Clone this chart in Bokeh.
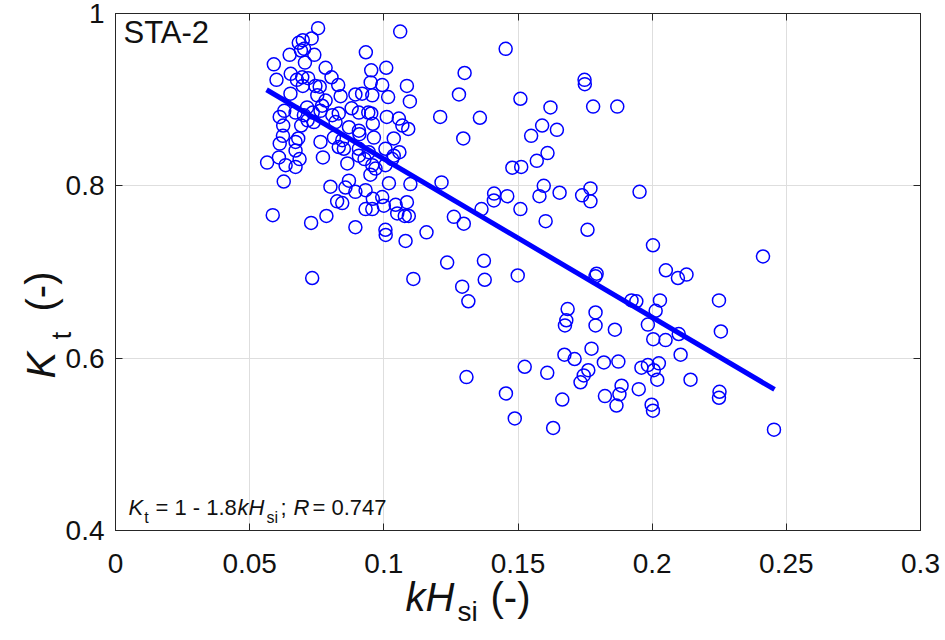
from bokeh.plotting import figure
from bokeh.models import Label, LinearAxis, FixedTicker, CustomJSTickFormatter, Range1d
from bokeh.embed import file_html
from bokeh.resources import INLINE

# data (kH_si vs K_t)
kh_si = [
    0.0755, 0.0731, 0.0698, 0.0683, 0.0703, 0.0649, 0.0741, 0.0691, 0.0590, 0.0706,
    0.0783, 0.0933, 0.1061, 0.1009, 0.0953, 0.0600, 0.0653, 0.0805, 0.0696, 0.0676,
    0.0718, 0.0698, 0.0745, 0.0761, 0.0830, 0.0951, 0.0994, 0.0652, 0.0752, 0.0839,
    0.0894, 0.0919, 0.0957, 0.1016, 0.0783, 0.0770, 0.0629, 0.0714, 0.0735, 0.0671,
    0.0702, 0.0764, 0.0808, 0.0832, 0.0880, 0.0907, 0.0942, 0.0953, 0.1011, 0.1056,
    0.0612, 0.0716, 0.0739, 0.0625, 0.0692, 0.0820, 0.0870, 0.0907, 0.0959, 0.1069,
    0.0624, 0.0681, 0.0764, 0.0814, 0.0845, 0.0909, 0.0963, 0.1037, 0.0612, 0.0671,
    0.0832, 0.0851, 0.0907, 0.0944, 0.1006, 0.1058, 0.0671, 0.0565, 0.0609, 0.0686,
    0.0773, 0.0864, 0.0928, 0.1031,
    0.0634, 0.0671, 0.0907, 0.0957, 0.0950, 0.0969, 0.1006, 0.1037, 0.0627,
    0.0801, 0.0870, 0.0857, 0.0894, 0.0932, 0.1019, 0.1099, 0.0826, 0.0845, 0.0959,
    0.0994, 0.0932, 0.0957, 0.1000, 0.1044, 0.1086, 0.1050, 0.1078, 0.1093, 0.0586,
    0.0729, 0.0786, 0.0894, 0.1006, 0.1007, 0.1081, 0.1159, 0.0733, 0.1110,
    0.1454, 0.1301, 0.1086, 0.1280, 0.1097, 0.1509, 0.1748, 0.1749, 0.1780, 0.1621,
    0.1210, 0.1358, 0.1091, 0.1590, 0.1645, 0.1549, 0.1296, 0.1610, 0.1570, 0.1479,
    0.1512, 0.1215, 0.1596, 0.1770, 0.1411, 0.1460, 0.1580, 0.1655, 0.1739,
    0.1261, 0.1298, 0.1364, 0.1410, 0.1509, 0.1770, 0.1603, 0.1759, 0.1236, 0.1373,
    0.1376, 0.1499, 0.1292, 0.1315, 0.1793, 0.1789, 0.1685, 0.1680, 0.1675, 0.1789,
    0.1789, 0.1774, 0.1673, 0.1711, 0.1820, 0.1525, 0.1609, 0.1762, 0.1745, 0.1308,
    0.1733, 0.1455, 0.1488, 0.1665, 0.1631, 0.1824,
    0.1870, 0.1953, 0.2003, 0.2413, 0.2051, 0.2096, 0.2128, 0.1923, 0.1941, 0.2029,
    0.2249,
    0.2013, 0.1861, 0.1984, 0.2004, 0.2050, 0.2099, 0.2256, 0.2106, 0.1874, 0.1960,
    0.1984, 0.2025, 0.2006, 0.2019, 0.2143, 0.1886, 0.1950, 0.1878, 0.1867, 0.1998,
    0.2003, 0.2251, 0.2249, 0.2454,
]
k_t = [
    0.983, 0.971, 0.969, 0.966, 0.959, 0.952, 0.952, 0.957, 0.941, 0.943,
    0.937, 0.955, 0.979, 0.937, 0.934, 0.923, 0.930, 0.926, 0.926, 0.923,
    0.925, 0.916, 0.916, 0.915, 0.917, 0.920, 0.917, 0.907, 0.905, 0.904,
    0.906, 0.907, 0.905, 0.903, 0.899, 0.893, 0.887, 0.891, 0.885, 0.885,
    0.882, 0.887, 0.882, 0.884, 0.890, 0.885, 0.885, 0.884, 0.880, 0.878,
    0.880, 0.876, 0.874, 0.870, 0.870, 0.874, 0.868, 0.864, 0.872, 0.870,
    0.858, 0.855, 0.851, 0.856, 0.853, 0.860, 0.856, 0.855, 0.849, 0.851,
    0.845, 0.843, 0.843, 0.839, 0.843, 0.839, 0.841, 0.827, 0.833, 0.831,
    0.833, 0.826, 0.831, 0.831,
    0.824, 0.822, 0.835, 0.824, 0.813, 0.820, 0.824, 0.835, 0.805,
    0.799, 0.806, 0.798, 0.793, 0.795, 0.803, 0.802, 0.782, 0.780, 0.785,
    0.787, 0.773, 0.773, 0.777, 0.778, 0.781, 0.768, 0.765, 0.765, 0.766,
    0.757, 0.765, 0.752, 0.749, 0.743, 0.736, 0.746, 0.693, 0.692,
    0.959, 0.931, 0.916, 0.906, 0.898, 0.901, 0.923, 0.918, 0.892, 0.891,
    0.880, 0.879, 0.866, 0.870, 0.865, 0.858, 0.855, 0.838, 0.829, 0.821,
    0.822, 0.804, 0.800, 0.797, 0.791, 0.788, 0.788, 0.792, 0.789,
    0.764, 0.756, 0.773, 0.783, 0.773, 0.782, 0.759, 0.749, 0.711, 0.713,
    0.691, 0.696, 0.683, 0.666, 0.698, 0.695, 0.657, 0.644, 0.638, 0.653,
    0.638, 0.611, 0.604, 0.599, 0.595, 0.590, 0.583, 0.586, 0.580, 0.578,
    0.572, 0.559, 0.530, 0.552, 0.519, 0.556,
    0.892, 0.793, 0.731, 0.718, 0.702, 0.693, 0.697, 0.667, 0.666, 0.667,
    0.667,
    0.655, 0.633, 0.639, 0.622, 0.621, 0.628, 0.631, 0.604, 0.596, 0.589,
    0.592, 0.594, 0.586, 0.575, 0.575, 0.568, 0.564, 0.558, 0.545, 0.546,
    0.539, 0.561, 0.554, 0.517,
]

# regression line end points
fit_x = [0.0563, 0.2456]
fit_y = [0.9115, 0.5637]

x_ticks = [0, 0.05, 0.1, 0.15, 0.2, 0.25, 0.3]
y_ticks = [0.4, 0.6, 0.8, 1.0]

FONT = "Liberation Sans"
AXIS_COLOR = "#262626"
TEXT_COLOR = "#111111"

# labels outside the frame have to sit in a side panel (else they are
# clipped), and they reserve room there; give the left panel spare room
# and slide the canvas left by that amount
SHIFT = 330

p = figure(width=945 + SHIFT, height=640,
           x_range=Range1d(0, 0.3), y_range=Range1d(0.4, 1.0),
           output_backend="svg", toolbar_location=None,
           min_border_left=115 + SHIFT, min_border_right=25,
           min_border_top=13, min_border_bottom=110)
p.styles = {"margin-left": f"-{SHIFT}px"}

p.background_fill_color = "white"
p.border_fill_color = "white"
p.outline_line_color = AXIS_COLOR
p.outline_line_alpha = 1.0

# points and fit
p.scatter(kh_si, k_t, marker="circle", size=13, fill_color=None,
          line_color="#0000ff", line_width=1.5)
p.line(fit_x, fit_y, line_width=5, color="#0000ff")

fmt = CustomJSTickFormatter(code="return String(Number(tick.toFixed(2)));")
blank = CustomJSTickFormatter(code="return '';")

def style_axis(ax, ticks, standoff):
    ax.ticker = FixedTicker(ticks=ticks)
    ax.formatter = fmt
    ax.major_label_text_font = FONT
    ax.major_label_text_font_size = "28px"
    ax.major_label_text_color = TEXT_COLOR
    ax.major_label_standoff = standoff
    ax.axis_line_color = AXIS_COLOR
    ax.major_tick_line_color = AXIS_COLOR
    ax.major_tick_in = 7
    ax.major_tick_out = 0
    ax.minor_tick_line_color = None

style_axis(p.xaxis[0], x_ticks, 23)
style_axis(p.yaxis[0], y_ticks, 11)

# mirrored ticks on top and right (box look)
for ticks, side in ((x_ticks, "above"), (y_ticks, "right")):
    ax = LinearAxis(ticker=FixedTicker(ticks=ticks), formatter=blank)
    ax.major_label_text_font_size = "8px"
    ax.major_label_standoff = 0
    ax.axis_line_color = AXIS_COLOR
    ax.major_tick_line_color = AXIS_COLOR
    ax.major_tick_in = 7
    ax.major_tick_out = 0
    ax.minor_tick_line_color = None
    p.add_layout(ax, side)

p.xgrid.ticker = FixedTicker(ticks=x_ticks)
p.ygrid.ticker = FixedTicker(ticks=y_ticks)
p.grid.grid_line_color = "#dedede"
p.grid.grid_line_width = 1


def lab(x, y, text, size, italic=False, angle=0, units="data", side=None):
    obj = Label(x=x, y=y, x_units=units, y_units=units, text=text,
                text_font=FONT, text_font_size=size,
                text_color=TEXT_COLOR,
                text_font_style="italic" if italic else "normal",
                text_baseline="alphabetic", text_align="left",
                angle=angle)
    if side is None:
        p.add_layout(obj)
    else:
        p.add_layout(obj, side)

# panel name
lab(0.003, 0.9774, "STA-2", "31px")

# regression text
lab(0.00485, 0.4265, "K", "22px", italic=True)
lab(0.0107, 0.4155, "t", "16px")
lab(0.0149, 0.4265, "= 1 - 1.8", "22px")
lab(0.0455, 0.4265, "kH", "22px", italic=True)
lab(0.0563, 0.4155, "si", "16px")
lab(0.0615, 0.4265, ";", "22px")
lab(0.0663, 0.4265, "R", "22px", italic=True)
lab(0.0734, 0.4265, "= 0.747", "22px")


def outside(x, y, text, size, italic=False, angle=0):
    # x, y: picture px from the top-left corner of the visible page
    lab(x + SHIFT, y, text, size, italic=italic, angle=angle,
        units="canvas", side="left")

# x axis title
outside(405, 596, "kH", "40px", italic=True)
outside(457, 611, "si", "28px")
outside(490, 596, "(-)", "40px")

# y axis title (rotated)
outside(40, 378, "K", "40px", italic=True, angle=1.5708)
outside(61, 339, "t", "28px", angle=1.5708)
outside(40, 311, "(-)", "40px", angle=1.5708)

open("out.html", "w").write(file_html(p, INLINE))
